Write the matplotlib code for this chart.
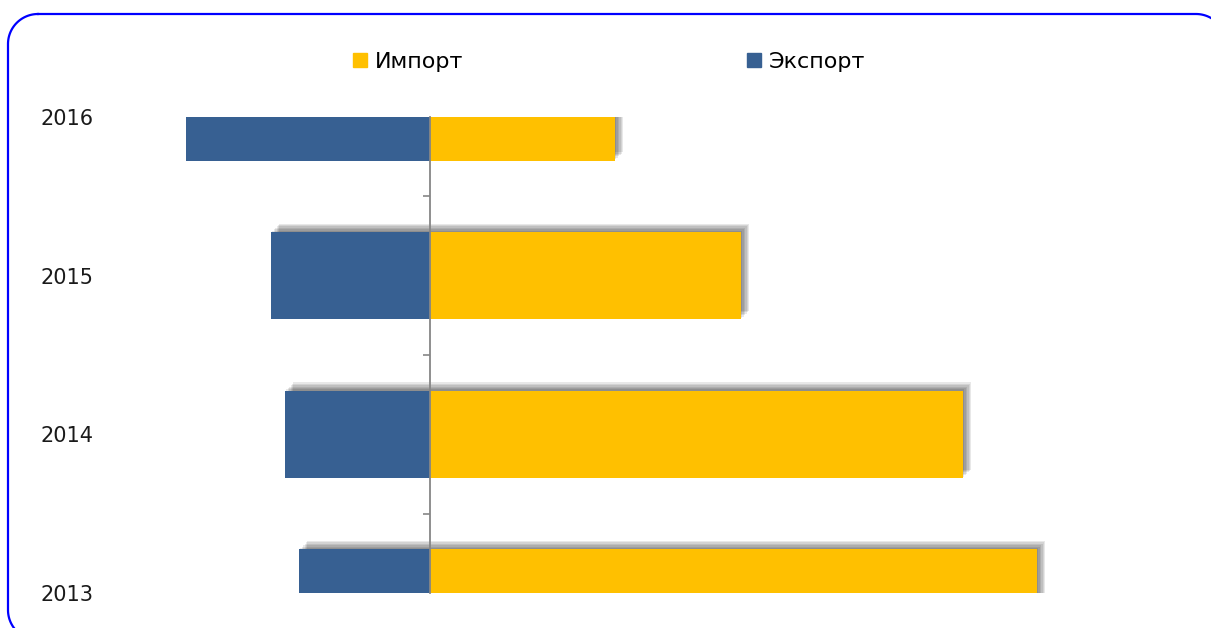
import numpy as np
import matplotlib
matplotlib.use("Agg")
import matplotlib.pyplot as plt
import matplotlib.patheffects as pe
from matplotlib.patches import Patch
from matplotlib.lines import Line2D
from matplotlib.transforms import blended_transform_factory

# Данные (условные единицы)
years = ["2013", "2014", "2015", "2016"]
import_vals = [60.7, 53.3, 31.1, 18.5]
export_vals = [-13.1, -14.5, -15.9, -24.4]

col_import = "#FFC000"
col_export = "#376092"

plt.rcParams["font.family"] = ["DejaVu Sans"]

W, H = 1211, 628
fig = plt.figure(figsize=(W / 100, H / 100), dpi=100)
ax = fig.add_axes([100 / W, 1 - 593 / H, 1080 / W, (593 - 117) / H])

# мягкая тень (несколько полупрозрачных слоёв)
shadow = [pe.SimplePatchShadow(offset=(d, d), shadow_rgbFace="#000000", alpha=0.09)
          for d in (1.0, 2.0, 3.0, 4.0, 5.0, 6.0)] + [pe.Normal()]

pos = range(len(years))
b1 = ax.barh(pos, export_vals, height=0.55, color=col_export, zorder=2)
b2 = ax.barh(pos, import_vals, height=0.55, color=col_import, zorder=3)
for b in list(b1) + list(b2):
    b.set_path_effects(shadow)

ax.set_ylim(0, 3)
ax.set_xlim(-33, 75)

for s in ["top", "right", "bottom"]:
    ax.spines[s].set_visible(False)
ax.spines["left"].set_position(("data", 0))
ax.spines["left"].set_color("#868686")
ax.spines["left"].set_linewidth(1.3)
ax.spines["left"].set_zorder(5)
ax.set_xticks([])
ax.set_yticks([])
ax.set_yticks([0.5, 1.5, 2.5], minor=True)
ax.tick_params(axis="y", which="minor", length=5, color="#868686", width=1.2, labelleft=False)

tr = blended_transform_factory(fig.transFigure, ax.transData)
for i, y in enumerate(years):
    ax.text(40 / W, i, y, transform=tr, ha="left", va="center_baseline", fontsize=15,
            color="#1a1a1a", clip_on=False)

handles = [Patch(color=col_import, label="Импорт"), Patch(color=col_export, label="Экспорт")]
fig.legend(handles=handles, loc="center", bbox_to_anchor=(0.503, 1 - 62 / H), ncol=2,
           frameon=False, fontsize=16, handlelength=0.6, handleheight=0.6,
           handletextpad=0.35, columnspacing=12.8)

# рамка со скруглёнными углами (в пикселях, ломаной линией)
x0, x1, y0, y1, r = 8, 1226, -12, H - 14, 30
def arc(cx, cy, a0, a1):
    t = np.radians(np.linspace(a0, a1, 30))
    return cx + r * np.cos(t), cy + r * np.sin(t)
pts = [arc(x0 + r, y1 - r, 90, 180), arc(x0 + r, y0 + r, 180, 270),
       arc(x1 - r, y0 + r, 270, 360), arc(x1 - r, y1 - r, 0, 90)]
fx = np.concatenate([p[0] for p in pts] + [pts[0][0][:1]])
fy = np.concatenate([p[1] for p in pts] + [pts[0][1][:1]])
fig.lines.append(Line2D(fx / W, fy / H, transform=fig.transFigure, color="#0000FF",
                        linewidth=1.6, clip_on=False))

fig.savefig("out.png", dpi=100)
